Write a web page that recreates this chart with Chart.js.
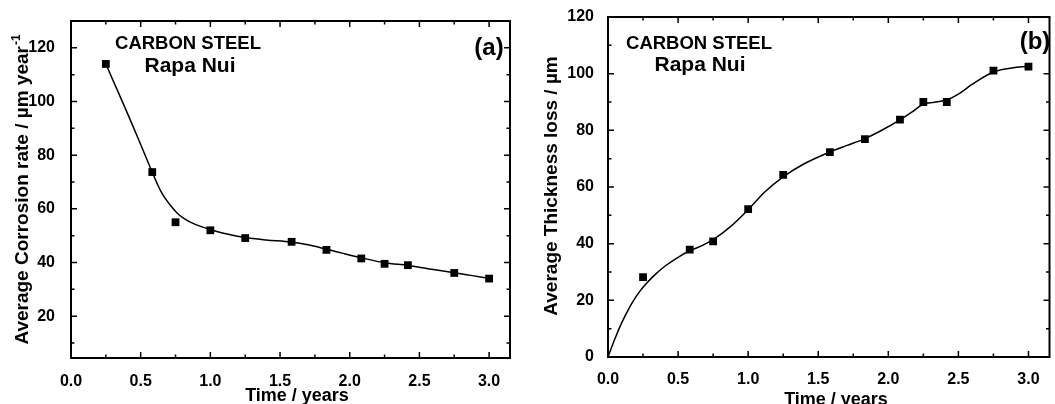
<!DOCTYPE html>
<html><head><meta charset="utf-8">
<script src="https://cdn.jsdelivr.net/npm/chart.js@4.4.0/dist/chart.umd.min.js"></script>
<style>
html,body{margin:0;padding:0;background:#fff;width:1055px;height:404px;overflow:hidden}
canvas{position:absolute;top:0}
#ca{left:0}
#cb{left:530px}
</style></head><body>
<canvas id="ca" width="530" height="404"></canvas>
<canvas id="cb" width="525" height="404"></canvas>
<script>
// ---- data ----
const timeYears = [0.25,0.583,0.75,1.0,1.25,1.583,1.833,2.083,2.25,2.417,2.75,3.0];
const corrosionRate = [114,73.7,55,52,49.1,47.7,44.7,41.5,39.5,39,36.1,34];
const thicknessLoss = [28.2,37.9,40.8,52.2,64.3,72.3,76.9,83.8,90,90,101.1,102.5];

const rateFitX = [0.25,0.33,0.41,0.5,0.58,0.65,0.71,0.77,0.83,0.9,1.0,1.12,1.25,1.4,1.58,1.7,1.83,1.96,2.08,2.25,2.42,2.6,2.75,2.88,3.0];
const rateFitY = [114,104.5,95,84,74,66,61.5,58,55.8,54,52.3,50.6,49.3,48.4,47.6,46.6,45,43.3,41.8,39.9,38.9,37.4,36.2,35.1,34.1];

const lossFitX = [0,0.05,0.1,0.15,0.2,0.25,0.33,0.41,0.5,0.58,0.67,0.75,0.88,1.0,1.12,1.25,1.4,1.58,1.7,1.83,1.96,2.08,2.17,2.25,2.33,2.42,2.5,2.6,2.75,2.88,3.0];
const lossFitY = [0,6.5,12.3,17.2,21.3,24.6,28.8,32.2,35.2,37.4,39.3,41.4,46.3,52,58.3,63.6,68.2,72.3,74.6,77,80.2,83.6,86.5,89.3,89.9,90.8,92.8,96.3,100.6,102,102.6];

const xTicks = [0,0.5,1.0,1.5,2.0,2.5,3.0];
const xMinorTicks = [0.25,0.75,1.25,1.75,2.25,2.75];
const rateTicks = [20,40,60,80,100,120];
const rateMinorTicks = [10,30,50,70,90,110];
const lossTicks = [0,20,40,60,80,100,120];
const lossMinorTicks = [10,30,50,70,90,110];

const FONT = '"Liberation Sans", Arial, Helvetica, sans-serif';

function pts(xs, ys){ return xs.map((x,i)=>({x:x, y:ys[i]})); }

function framePlugin(cfg){
  return {
    id:'frame_'+cfg.id,
    afterDatasetsDraw(chart){
      const ctx = chart.ctx, a = chart.chartArea, sx = chart.scales.x, sy = chart.scales.y;
      ctx.save();
      ctx.strokeStyle = '#000';
      ctx.lineWidth = 1.5;
      ctx.beginPath();
      const hx = (list, len) => list.forEach(v => {
        const p = sx.getPixelForValue(v);
        ctx.moveTo(p, a.bottom); ctx.lineTo(p, a.bottom - len);
        ctx.moveTo(p, a.top); ctx.lineTo(p, a.top + len);
      });
      const vy = (list, len) => list.forEach(v => {
        const p = sy.getPixelForValue(v);
        ctx.moveTo(a.left, p); ctx.lineTo(a.left + len, p);
        ctx.moveTo(a.right, p); ctx.lineTo(a.right - len, p);
      });
      hx(xTicks, 6); hx(xMinorTicks, 3.5);
      vy(cfg.yMajor, 6); vy(cfg.yMinor, 3.5);
      ctx.stroke();
      ctx.lineWidth = 2;
      ctx.strokeRect(a.left, a.top, a.right - a.left, a.bottom - a.top);

      ctx.fillStyle = '#000';
      ctx.textBaseline = 'alphabetic';
      cfg.texts.forEach(t => {
        ctx.font = 'bold ' + t.size + 'px ' + FONT;
        ctx.textAlign = 'center';
        ctx.fillText(t.s, t.x, t.y);
      });
      ctx.font = 'bold 18px ' + FONT;
      ctx.textAlign = 'center';
      ctx.fillText('Time / years', cfg.xt[0], cfg.xt[1]);
      ctx.translate(cfg.yt[0], cfg.yt[1]);
      ctx.rotate(-Math.PI/2);
      ctx.font = 'bold 19px ' + FONT;
      const w1 = ctx.measureText(cfg.ytitle).width;
      let w2 = 0;
      if (cfg.ysup) { ctx.font = 'bold 12px ' + FONT; w2 = ctx.measureText(cfg.ysup).width; }
      const x0 = -(w1 + w2)/2;
      ctx.textAlign = 'left';
      ctx.font = 'bold 19px ' + FONT;
      ctx.fillText(cfg.ytitle, x0, 0);
      if (cfg.ysup) { ctx.font = 'bold 12px ' + FONT; ctx.fillText(cfg.ysup, x0 + w1 + 1, -8); }
      ctx.restore();
    }
  };
}

function makeChart(id, cfg){
  return new Chart(document.getElementById(id), {
    type:'scatter',
    data:{datasets:[
      {data: pts(cfg.fitX, cfg.fitY), showLine:true, borderColor:'#000', borderWidth:1.5,
       pointRadius:0, cubicInterpolationMode:'monotone', fill:false},
      {data: pts(timeYears, cfg.vals), showLine:false, pointStyle:'rect', pointRadius:5.5,
       backgroundColor:'#000', borderWidth:0}
    ]},
    options:{
      responsive:false, maintainAspectRatio:false, animation:false, devicePixelRatio:1,
      layout:{padding:cfg.pad},
      plugins:{legend:{display:false}, tooltip:{enabled:false}},
      scales:{
        x:{type:'linear', min:0, max:3.15,
           grid:{display:false}, border:{display:false},
           afterBuildTicks: s => { s.ticks = xTicks.map(v=>({value:v})); },
           afterFit: s => { s.height = cfg.xh; },
           ticks:{color:'#000', padding:cfg.xpad, maxRotation:0, autoSkip:false,
                  font:{family:FONT, size:16, weight:'bold'},
                  callback: v => Number(v).toFixed(1)}},
        y:{type:'linear', min:cfg.ymin, max:cfg.ymax,
           grid:{display:false}, border:{display:false},
           afterBuildTicks: s => { s.ticks = cfg.yMajor.map(v=>({value:v})); },
           afterFit: s => { s.width = cfg.yw; },
           ticks:{color:'#000', padding:cfg.ypad, autoSkip:false,
                  font:{family:FONT, size:16, weight:'bold'},
                  callback: v => String(v)}}
      }
    },
    plugins:[framePlugin(cfg)]
  });
}

makeChart('ca', {
  id:'a', fitX:rateFitX, fitY:rateFitY, vals:corrosionRate,
  ymin:4.4, ymax:130, yMajor:rateTicks, yMinor:rateMinorTicks,
  pad:{top:21, right:20, left:0, bottom:0}, xh:46, yw:71, xpad:6, ypad:8,
  ytitle:'Average Corrosion rate / \u00b5m year', ysup:'-1', yt:[28,190],
  xt:[297,401],
  texts:[{s:'CARBON STEEL', x:188, y:48.5, size:18.5},
         {s:'Rapa Nui', x:190, y:71.5, size:21},
         {s:'(a)', x:489, y:55, size:24}]
});

makeChart('cb', {
  id:'b', fitX:lossFitX, fitY:lossFitY, vals:thicknessLoss,
  ymin:0, ymax:120, yMajor:lossTicks, yMinor:lossMinorTicks,
  pad:{top:17, right:1, left:0, bottom:0}, xh:47, yw:78, xpad:5, ypad:6,
  ytitle:'Average Thickness loss / \u00b5m', ysup:'', yt:[557-530,186],
  xt:[836-530,405],
  texts:[{s:'CARBON STEEL', x:699-530, y:48.5, size:18.5},
         {s:'Rapa Nui', x:700-530, y:71, size:21},
         {s:'(b)', x:1035-530, y:49, size:24}]
});
</script>
</body></html>
